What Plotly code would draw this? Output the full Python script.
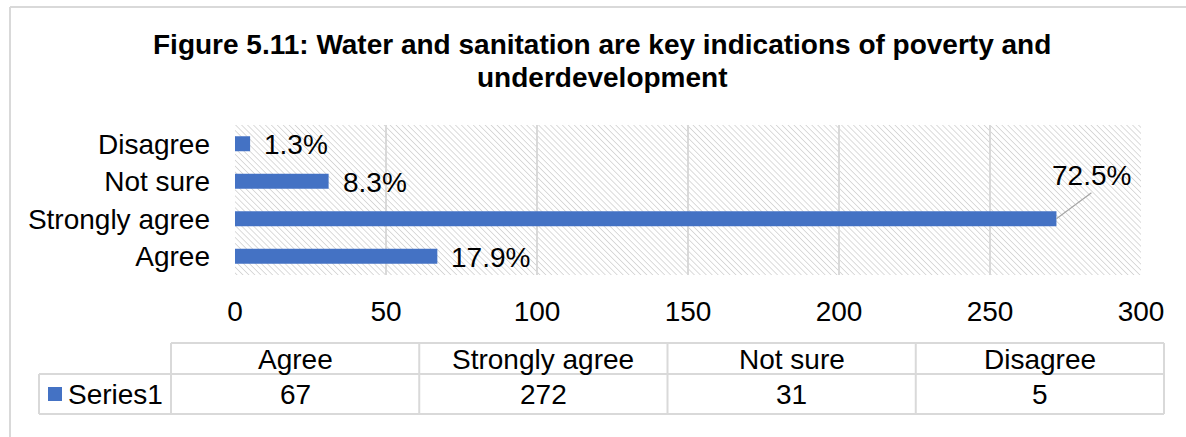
import base64
import plotly.graph_objects as go

# ---- data -------------------------------------------------------------
categories = ["Agree", "Strongly agree", "Not sure", "Disagree"]
counts = [67, 272, 31, 5]
series_name = "Series1"
x_tick_values = [0, 50, 100, 150, 200, 250, 300]
title_lines = [
    "Figure 5.11: Water and sanitation are key indications of poverty and",
    "underdevelopment",
]

# ---- styling ----------------------------------------------------------
FONT = "Arial, 'Liberation Sans', sans-serif"
BAR_COLOR = "#4472C4"
GRID_COLOR = "#d9d9d9"
TEXT_COLOR = "#000000"
FS = 28

W, H = 1186, 437
# plot area in pixels
PX0, PX1, PY0, PY1 = 235, 1141, 125, 275


def px(x):
    return (x - PX0) / (PX1 - PX0)


def py(y):
    return (PY1 - y) / (PY1 - PY0)


total = sum(counts)
pct_text = [f"{v / total * 100:.1f}%" for v in counts]

fig = go.Figure()
fig.add_trace(go.Bar(
    x=counts, y=categories, orientation="h", width=0.4,
    marker=dict(color=BAR_COLOR, line=dict(width=0)),
    name=series_name, showlegend=False, hoverinfo="x+y",
))

annotations = []
shapes = []

# percentage data labels
vmax = max(counts)
for cat, v, t in zip(categories, counts, pct_text):
    if v == vmax:
        annotations.append(dict(
            x=v, y=cat, xref="x", yref="y", text=t, showarrow=True,
            ax=35, ay=-26, arrowhead=0, arrowwidth=1.2, arrowcolor="#a6a6a6",
            xanchor="center", yanchor="bottom", standoff=0,
            font=dict(family=FONT, size=FS, color=TEXT_COLOR),
        ))
    else:
        annotations.append(dict(
            x=v, y=cat, xref="x", yref="y", text=t, showarrow=False,
            xanchor="left", yanchor="middle", xshift=12, yshift=-1,
            font=dict(family=FONT, size=FS, color=TEXT_COLOR),
        ))

# chart title
for i, line in enumerate(title_lines):
    annotations.append(dict(
        x=px(602), y=py(45 + 32 * i), xref="paper", yref="paper",
        text=f"<b>{line}</b>", showarrow=False,
        xanchor="center", yanchor="middle",
        font=dict(family=FONT, size=FS, color=TEXT_COLOR),
    ))

# data table under the axis
T_LEFT, T_RIGHT, LBL_LEFT = 171, 1164, 39
Y_HEAD_TOP, Y_MID, Y_BOT = 343, 374, 414
col_w = (T_RIGHT - T_LEFT) / len(categories)
line_style = dict(color=GRID_COLOR, width=2)


def hline(y, x0, x1):
    shapes.append(dict(type="line", xref="paper", yref="paper",
                       x0=px(x0), x1=px(x1), y0=py(y), y1=py(y), line=line_style))


def vline(x, y0, y1):
    shapes.append(dict(type="line", xref="paper", yref="paper",
                       x0=px(x), x1=px(x), y0=py(y0), y1=py(y1), line=line_style))


hline(Y_HEAD_TOP, T_LEFT, T_RIGHT)
hline(Y_MID, LBL_LEFT, T_RIGHT)
hline(Y_BOT, LBL_LEFT, T_RIGHT)
vline(LBL_LEFT, Y_MID, Y_BOT)
for i in range(len(categories) + 1):
    vline(T_LEFT + i * col_w, Y_HEAD_TOP, Y_BOT)

for i, (cat, v) in enumerate(zip(categories, counts)):
    cx = T_LEFT + (i + 0.5) * col_w
    annotations.append(dict(
        x=px(cx), y=py(359), xref="paper", yref="paper", text=cat,
        showarrow=False, xanchor="center", yanchor="middle",
        font=dict(family=FONT, size=FS, color=TEXT_COLOR),
    ))
    annotations.append(dict(
        x=px(cx), y=py(394.5), xref="paper", yref="paper", text=str(v),
        showarrow=False, xanchor="center", yanchor="middle",
        font=dict(family=FONT, size=FS, color=TEXT_COLOR),
    ))

# legend key + series name in the table row
shapes.append(dict(type="rect", xref="paper", yref="paper",
                   x0=px(48), x1=px(62), y0=py(387), y1=py(401),
                   fillcolor=BAR_COLOR, line=dict(width=0)))
annotations.append(dict(
    x=px(66), y=py(394.5), xref="paper", yref="paper", text=series_name,
    showarrow=False, xanchor="left", yanchor="middle",
    font=dict(family=FONT, size=FS, color=TEXT_COLOR),
))

# outer chart frame
shapes.append(dict(type="line", xref="paper", yref="paper",
                   x0=px(10), x1=px(10), y0=py(7), y1=py(H + 5),
                   line=dict(color=GRID_COLOR, width=2)))
shapes.append(dict(type="line", xref="paper", yref="paper",
                   x0=px(10), x1=px(W + 5), y0=py(7), y1=py(7),
                   line=dict(color=GRID_COLOR, width=2)))

# hatched plot-area background
svg = (
    f'<svg xmlns="http://www.w3.org/2000/svg" width="{PX1 - PX0}" height="{PY1 - PY0}">'
    '<defs><pattern id="h" width="4.2" height="4.2" patternUnits="userSpaceOnUse" '
    'patternTransform="rotate(-45)">'
    '<line x1="0" y1="0" x2="0" y2="4.2" stroke="#c4c4c4" stroke-width="1.2"/>'
    '</pattern></defs><rect width="100%" height="100%" fill="url(#h)"/></svg>'
)
hatch_src = "data:image/svg+xml;base64," + base64.b64encode(svg.encode()).decode()

fig.update_layout(
    width=W, height=H,
    margin=dict(l=PX0, r=W - PX1, t=PY0, b=H - PY1, pad=0),
    paper_bgcolor="white", plot_bgcolor="white",
    showlegend=False,
    font=dict(family=FONT, size=FS, color=TEXT_COLOR),
    annotations=annotations, shapes=shapes,
    images=[dict(source=hatch_src, xref="paper", yref="paper", x=0, y=1,
                 sizex=1, sizey=1, sizing="stretch", xanchor="left",
                 yanchor="top", layer="below")],
    bargap=0.6,
)
fig.update_xaxes(
    range=[0, 300], tickvals=x_tick_values, showgrid=True,
    gridcolor=GRID_COLOR, gridwidth=2, zeroline=False, showline=False,
    ticks="", ticklabelstandoff=17,
    tickfont=dict(family=FONT, size=FS, color=TEXT_COLOR), fixedrange=True,
)
fig.update_yaxes(
    categoryorder="array", categoryarray=categories,
    range=[-0.5, len(categories) - 0.5],
    showgrid=False, zeroline=False, showline=False, ticks="",
    ticklabelstandoff=24,
    tickfont=dict(family=FONT, size=FS, color=TEXT_COLOR), fixedrange=True,
)

fig.write_html("out.html", config={"displayModeBar": False})
